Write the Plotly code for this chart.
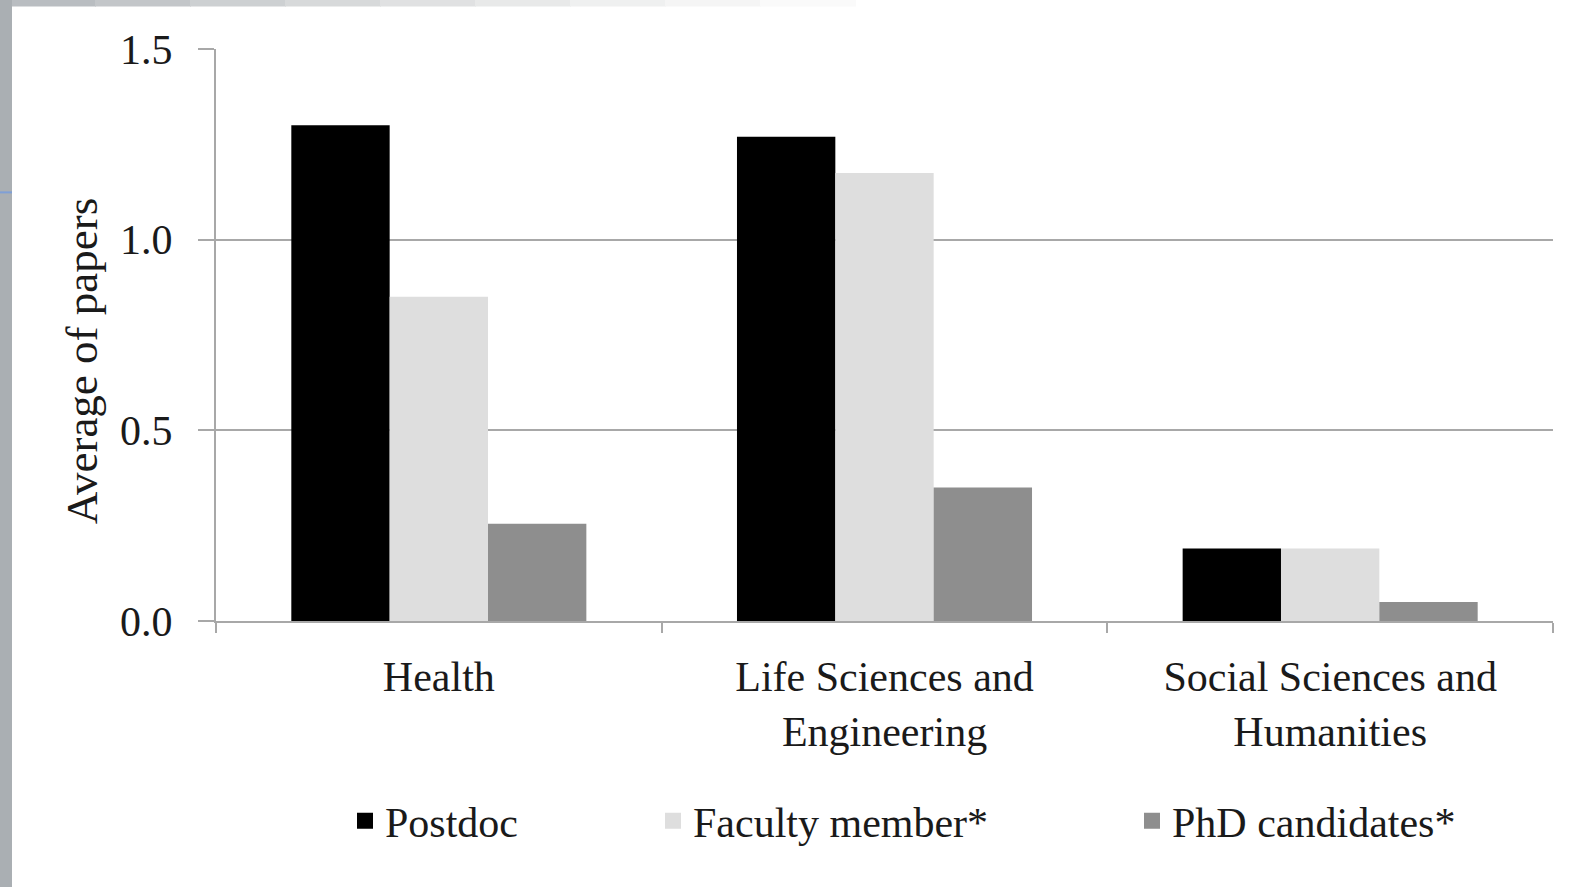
import plotly.graph_objects as go

categories = ["Health", "Life Sciences and<br>Engineering", "Social Sciences and<br>Humanities"]
series_names = ["Postdoc", "Faculty member*", "PhD candidates*"]
postdoc = [1.30, 1.27, 0.19]
faculty = [0.85, 1.175, 0.19]
phd = [0.255, 0.35, 0.05]
colors = ["#000000", "#dedede", "#8e8e8e"]
y_ticks = [0.0, 0.5, 1.0, 1.5]
y_ticklabels = ["0.0", "0.5", "1.0", "1.5"]

FONT = "Liberation Serif"
W, H = 1585, 887
L, R, T, B = 216, 1553, 48.5, 621
pw, ph = R - L, B - T

def px(x):
    return (x - L) / pw

def py(y):
    return (B - y) / ph

fig = go.Figure()
for name, vals, col in zip(series_names, [postdoc, faculty, phd], colors):
    fig.add_trace(go.Bar(x=categories, y=vals, name=name, marker=dict(color=col, line=dict(width=0)),
                         showlegend=False))

legend_ids = ["legend", "legend2", "legend3"]
for name, col, lid in zip(series_names, colors, legend_ids):
    fig.add_trace(go.Scatter(x=[None], y=[None], mode="markers", name=name,
                             marker=dict(symbol="square", size=16, color=col),
                             showlegend=True, legend=lid))

leg_text_x = [387, 695, 1174]
legend_cfg = {}
for lid, tx in zip(legend_ids, leg_text_x):
    legend_cfg[lid] = dict(x=px(tx - 42), y=py(821), xanchor="left", yanchor="middle",
                           orientation="h", bgcolor="rgba(0,0,0,0)",
                           font=dict(family=FONT, size=42, color="#1a1a1a"))

shapes = []
# top gradient strip
grad = ["#b9bdc1", "#c3c6c9", "#cdd0d2", "#d7d9da", "#e0e1e2", "#e8e9e9", "#eff0f0", "#f5f5f5", "#fafafa"]
step = 95
for i, c in enumerate(grad):
    shapes.append(dict(type="rect", xref="paper", yref="paper", x0=px(i * step), x1=px((i + 1) * step + 1),
                       y0=py(6), y1=py(-2), fillcolor=c, line=dict(width=0), layer="below"))
# left strip
shapes.append(dict(type="rect", xref="paper", yref="paper", x0=px(-2), x1=px(12), y0=py(H + 2), y1=py(-2),
                   fillcolor="#aaafb3", line=dict(width=0), layer="below"))
shapes.append(dict(type="line", xref="paper", yref="paper", x0=px(0), x1=px(12), y0=py(192), y1=py(192),
                   line=dict(color="#7f9fd6", width=2), layer="below"))

fig.update_layout(
    width=W, height=H,
    margin=dict(l=L, r=W - R, t=T, b=H - B, pad=0),
    paper_bgcolor="#ffffff", plot_bgcolor="rgba(0,0,0,0)",
    barmode="group", bargap=0.338, bargroupgap=0,
    font=dict(family=FONT, size=42, color="#1a1a1a"),
    shapes=shapes,
    annotations=[dict(text="Average of papers", xref="paper", yref="paper", x=px(82), y=py(361),
                      xanchor="center", yanchor="middle", textangle=-90, showarrow=False,
                      font=dict(family=FONT, size=45, color="#1a1a1a"))],
    **legend_cfg,
)
fig.update_yaxes(range=[0, 1.5], tickvals=y_ticks, ticktext=y_ticklabels,
                 showgrid=True, gridcolor="#a8a8a8", gridwidth=2,
                 showline=True, linecolor="#a8a8a8", linewidth=2,
                 ticks="outside", ticklen=16, tickcolor="#a8a8a8", tickwidth=2,
                 ticklabelstandoff=17, zeroline=False,
                 tickfont=dict(family=FONT, size=42, color="#1a1a1a"))
fig.update_xaxes(showline=True, linecolor="#a8a8a8", linewidth=2,
                 ticks="outside", tickson="boundaries", ticklen=10, tickcolor="#a8a8a8", tickwidth=2,
                 ticklabelstandoff=18, showgrid=False,
                 tickfont=dict(family=FONT, size=42, color="#1a1a1a"))

fig.write_html("out.html", config={"displayModeBar": False},
               post_script="document.body.style.margin='0';document.body.style.overflow='hidden';")
